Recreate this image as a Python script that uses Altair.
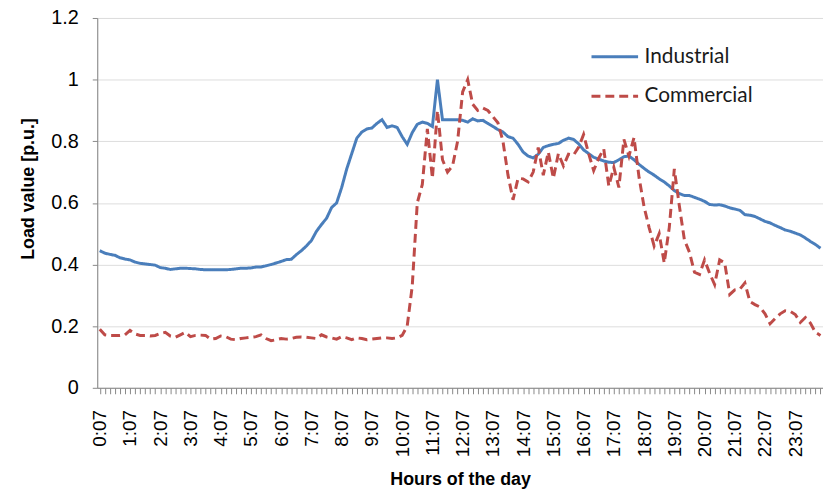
import altair as alt
import pandas as pd

# 10-minute samples, 0:07 ... 23:57
times = [f"{h}:{m:02d}" for h in range(24) for m in (7, 17, 27, 37, 47, 57)]
hour_labels = [f"{h}:07" for h in range(24)]

industrial = [
    0.445, 0.437, 0.433, 0.430, 0.422, 0.418, 0.415, 0.408, 0.404, 0.402,
    0.400, 0.398, 0.390, 0.388, 0.384, 0.386, 0.388, 0.388, 0.387, 0.386,
    0.384, 0.383, 0.383, 0.383, 0.383, 0.383, 0.384, 0.386, 0.388, 0.388,
    0.389, 0.392, 0.392, 0.396, 0.400, 0.405, 0.410, 0.416, 0.417, 0.432,
    0.445, 0.460, 0.478, 0.508, 0.530, 0.550, 0.585, 0.600, 0.650, 0.710,
    0.760, 0.810, 0.830, 0.840, 0.843, 0.858, 0.870, 0.845, 0.850, 0.845,
    0.815, 0.790, 0.828, 0.855, 0.862, 0.858, 0.848, 1.000, 0.870, 0.870,
    0.870, 0.870, 0.868, 0.862, 0.873, 0.866, 0.868, 0.858, 0.848, 0.838,
    0.830, 0.815, 0.810, 0.790, 0.765, 0.752, 0.746, 0.758, 0.780, 0.786,
    0.790, 0.793, 0.803, 0.810, 0.806, 0.792, 0.772, 0.760, 0.748, 0.742,
    0.736, 0.732, 0.731, 0.740, 0.750, 0.752, 0.740, 0.725, 0.712, 0.700,
    0.690, 0.678, 0.668, 0.655, 0.640, 0.630, 0.624, 0.624, 0.618, 0.612,
    0.605, 0.595, 0.593, 0.594, 0.590, 0.584, 0.580, 0.576, 0.562, 0.560,
    0.556, 0.548, 0.540, 0.535, 0.527, 0.520, 0.512, 0.508, 0.502, 0.496,
    0.486, 0.475, 0.465, 0.453,
]

commercial = [
    0.190, 0.172, 0.170, 0.170, 0.170, 0.172, 0.186, 0.175, 0.170, 0.170,
    0.168, 0.170, 0.176, 0.180, 0.168, 0.164, 0.172, 0.180, 0.166, 0.170,
    0.171, 0.170, 0.158, 0.160, 0.168, 0.166, 0.158, 0.156, 0.160, 0.162,
    0.164, 0.166, 0.172, 0.160, 0.153, 0.156, 0.160, 0.158, 0.160, 0.164,
    0.165, 0.164, 0.162, 0.160, 0.172, 0.165, 0.162, 0.158, 0.166, 0.162,
    0.156, 0.162, 0.160, 0.156, 0.158, 0.160, 0.162, 0.162, 0.160, 0.162,
    0.170, 0.200, 0.330, 0.600, 0.660, 0.840, 0.680, 0.900, 0.740, 0.700,
    0.720, 0.800, 0.960, 1.000, 0.920, 0.900, 0.908, 0.900, 0.880, 0.860,
    0.800, 0.690, 0.610, 0.680, 0.678, 0.668, 0.700, 0.780, 0.690, 0.765,
    0.680, 0.760, 0.720, 0.758, 0.755, 0.780, 0.822, 0.760, 0.705, 0.745,
    0.775, 0.655, 0.715, 0.650, 0.806, 0.752, 0.812, 0.683, 0.587, 0.520,
    0.460, 0.500, 0.405, 0.520, 0.710, 0.590, 0.480, 0.440, 0.375, 0.368,
    0.415, 0.372, 0.335, 0.415, 0.405, 0.303, 0.318, 0.320, 0.340, 0.280,
    0.270, 0.262, 0.240, 0.208, 0.225, 0.240, 0.250, 0.248, 0.238, 0.212,
    0.228, 0.210, 0.180, 0.170,
]

series_names = ["Industrial", "Commercial"]
series_colors = ["#4a7ebb", "#be4b48"]
series_dashes = [[1, 0], [9, 5]]
y_ticks = [0, 0.2, 0.4, 0.6, 0.8, 1.0, 1.2]

rows = []
for name, vals in zip(series_names, [industrial, commercial]):
    for i, (t, v) in enumerate(zip(times, vals)):
        rows.append({"idx": i, "time": t, "value": v, "series": name})
df = pd.DataFrame(rows)

label_array = "[" + ",".join(f"'{s}'" for s in hour_labels) + "]"
x_label_expr = f"datum.value % 6 == 0 ? {label_array}[floor(datum.value / 6)] : ''"

FONT = "Lato"
TXT = "#1a1a1a"
GRID = "#8a8a8a"


def make_legend():
    return alt.Legend(
        title=None,
        orient="none",
        legendX=497,
        legendY=14,
        symbolType="stroke",
        symbolSize=2209,
        symbolStrokeWidth=3,
        labelFont=FONT,
        labelFontSize=21,
        labelColor=TXT,
        labelOffset=5,
        labelLimit=300,
        rowPadding=5,
        padding=0,
    )


chart = alt.Chart(df).mark_line(strokeWidth=3).encode(
    x=alt.X(
        "idx:Q",
        scale=alt.Scale(domain=[-0.5, len(times) - 0.5], nice=False, zero=False),
        axis=alt.Axis(
            title="Hours of the day",
            values=list(range(len(times))),
            labelExpr=x_label_expr,
            labelAngle=270,
            labelAlign="right",
            labelBaseline="middle",
            labelOverlap=False,
            labelFontSize=19,
            labelPadding=16,
            tickSize=6,
            grid=False,
            titleFontSize=18,
            titleFontWeight="bold",
            titleY=98,
            titleBaseline="alphabetic",
        ),
    ),
    y=alt.Y(
        "value:Q",
        scale=alt.Scale(domain=[0, 1.2], nice=False),
        axis=alt.Axis(
            title="Load value [p.u.]",
            values=y_ticks,
            format=".1~f",
            grid=True,
            tickSize=5,
            labelFontSize=20,
            labelPadding=14,
            titleFontSize=18,
            titleFontWeight="bold",
            titlePadding=13,
            titleY=172,
        ),
    ),
    color=alt.Color(
        "series:N",
        scale=alt.Scale(domain=series_names, range=series_colors),
        sort=series_names,
        legend=make_legend(),
    ),
    strokeDash=alt.StrokeDash(
        "series:N",
        scale=alt.Scale(domain=series_names, range=series_dashes),
        sort=series_names,
        legend=make_legend(),
    ),
).properties(
    width=732,
    height=373,
    autosize=alt.AutoSizeParams(type="none"),
    padding={"left": 90, "top": 8, "right": 0, "bottom": 102},
).configure_view(
    stroke=None,
).configure_axis(
    labelFont=FONT,
    titleFont=FONT,
    labelColor=TXT,
    titleColor=TXT,
    domainColor=GRID,
    tickColor=GRID,
    gridColor=GRID,
    gridWidth=1,
    domainWidth=1,
).configure(background="white")

chart.save("out.html", embed_options={"renderer": "svg", "actions": False})
